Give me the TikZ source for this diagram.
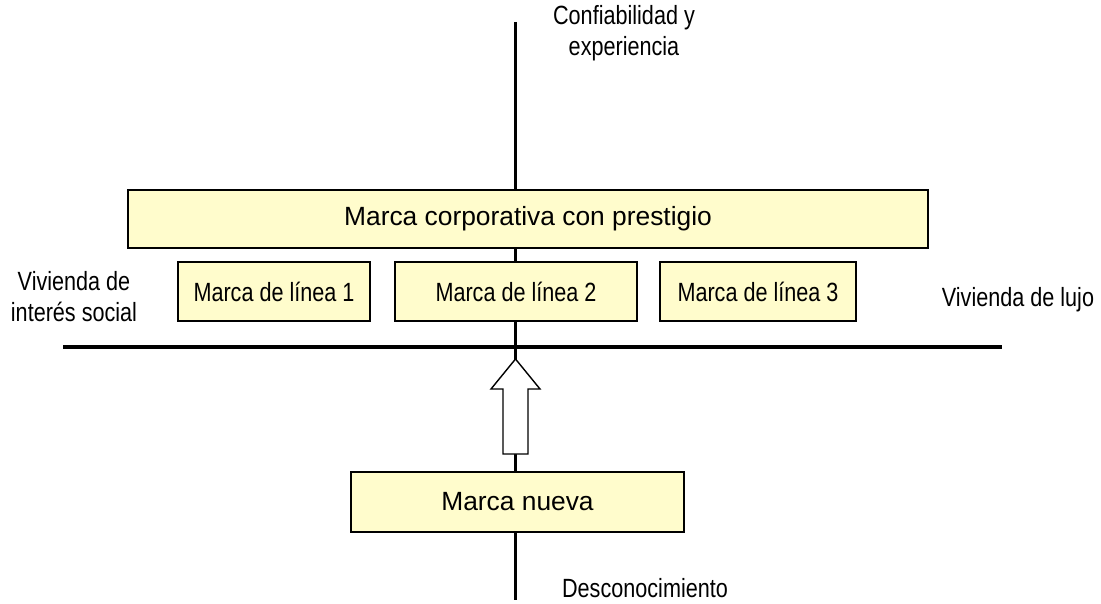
\documentclass[tikz,border=0pt]{standalone}
\usepackage{fontspec}
\setmainfont{Liberation Sans}
\newfontfamily\narrowfont[FakeStretch=0.82]{Liberation Sans}

\tikzset{
    brand/.style={draw, line width=0.8pt, fill=yellow!20, inner sep=0pt, font=\fontsize{15}{18}\selectfont},
    linebrand/.style={brand, font=\narrowfont\fontsize{15}{18}\selectfont, minimum height=1.18cm},
    axislabel/.style={align=center, font=\narrowfont\fontsize{15}{17.6}\selectfont},
    blockarrow/.style={draw, line width=0.8pt, fill=white, line join=miter}
}

\begin{document}
\begin{tikzpicture}[x=0.02cm, y=-0.02cm]
            \useasboundingbox (0,0) rectangle (1101,604);

            \coordinate (top) at (515,22);
            \coordinate (bottom) at (515,600);
            \coordinate (left) at (63,347);
            \coordinate (right) at (1002,347);

            \draw[line width=1.7pt] (top) to (bottom);
            \draw[line width=2.3pt] (left) to (right);

            \node[brand, minimum width=16cm, minimum height=1.16cm] (corp) at (528,219) {Marca corporativa con prestigio};
            \node[linebrand, minimum width=3.84cm] (linea1) at (274,291.5) {Marca de línea 1};
            \node[linebrand, minimum width=4.84cm] (linea2) at (516,291.5) {Marca de línea 2};
            \node[linebrand, minimum width=3.92cm] (linea3) at (758,291.5) {Marca de línea 3};
            \node[brand, minimum width=6.66cm, minimum height=1.2cm] (nueva) at (517.5,502) {Marca nueva};

            % flecha de crecimiento
            \coordinate (tip) at (515.5,359);
            \draw[blockarrow] (tip) -- ++(24.5,30) -- ++(-12,0) -- ++(0,65) -- ++(-25,0) -- ++(0,-65) -- ++(-12,0) -- cycle;

            \node[axislabel] (confianza) at (624,33) {Confiabilidad y\\experiencia};
            \node[axislabel] (social) at (74,297) {Vivienda de\\interés social};
            \node[axislabel] (lujo) at (1018,300) {Vivienda de lujo};
            \node[axislabel] (desconocido) at (645,588) {Desconocimiento};
        \end{tikzpicture}
\end{document}
